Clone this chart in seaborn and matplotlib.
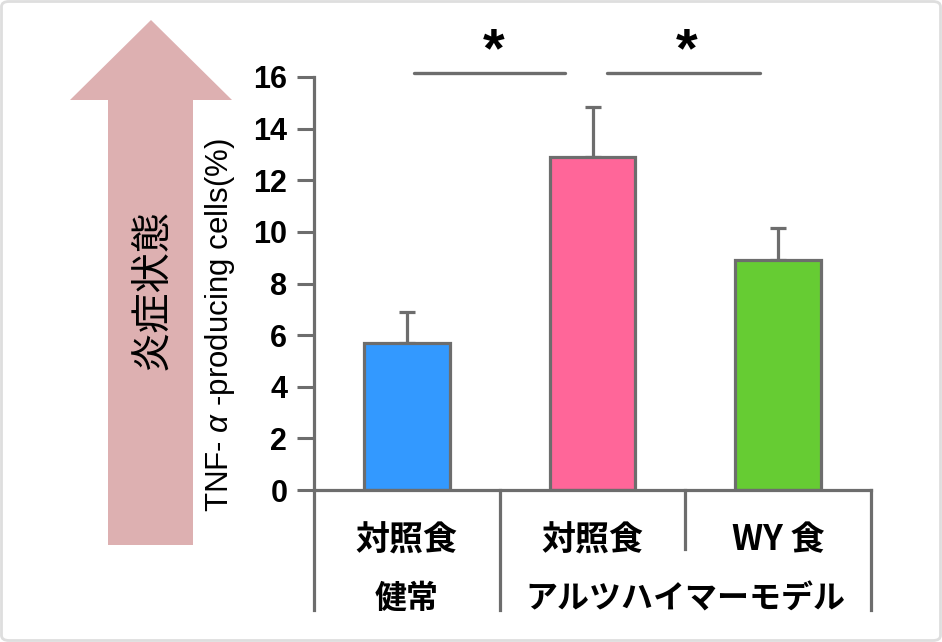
import numpy as np
import pandas as pd
import matplotlib
matplotlib.use("Agg")
import matplotlib.pyplot as plt
import seaborn as sns
from matplotlib.patches import Polygon, FancyBboxPatch

# ---- data ----
conditions = ["健常・対照食", "AD・対照食", "AD・WY食"]
bar_labels = ["対照食", "対照食", "WY 食"]
means = [5.7, 12.9, 8.9]
errors = [1.2, 1.95, 1.25]
group_labels = ["健常", "アルツハイマーモデル"]
group_centers = [0, 1.5]
colors = ["#3399FF", "#FF6699", "#66CC33"]
y_ticks = [0, 2, 4, 6, 8, 10, 12, 14, 16]
sig_pairs = [(0.04, 0.85), (1.08, 1.90)]
sig_star_x = [0.465, 1.505]

sns.set_style("white")
plt.rcParams["font.family"] = ["Liberation Sans", "Noto Sans CJK JP"]
plt.rcParams["mathtext.fontset"] = "custom"
plt.rcParams["mathtext.it"] = "Liberation Sans:italic"
plt.rcParams["mathtext.rm"] = "Liberation Sans"
plt.rcParams["text.color"] = "black"
plt.rcParams["axes.labelcolor"] = "black"
plt.rcParams["xtick.labelcolor"] = "black"
plt.rcParams["ytick.labelcolor"] = "black"

GRAY = "#6d6d6d"
W, H = 942, 642
fig = plt.figure(figsize=(W / 100, H / 100), dpi=100)
ax = fig.add_axes([314 / W, 1 - 490 / H, (871 - 314) / W, (490 - 77) / H])

df = pd.DataFrame({"cond": conditions, "value": means})
sns.barplot(data=df, x="cond", y="value", hue="cond", order=conditions,
            palette=colors, saturation=1, width=0.463, edgecolor=GRAY, linewidth=2.3,
            errorbar=None, legend=False, ax=ax, zorder=2)
ax.errorbar(np.arange(len(means)), means, yerr=[np.zeros(len(errors)), errors],
            fmt="none", ecolor=GRAY, elinewidth=2.3, capsize=6, capthick=2.3, zorder=1)

ax.set_xlim(-0.5, 2.5)
ax.set_ylim(0, 16)
ax.set_yticks(y_ticks)
ax.set_yticklabels([str(t) for t in y_ticks], fontsize=22, fontweight="bold")
ax.tick_params(axis="y", length=12.2, width=2.2, color=GRAY, pad=7, left=True)
ax.tick_params(axis="x", length=0, pad=36)
ax.set_xticks(range(len(bar_labels)))
ax.set_xticklabels(bar_labels, fontsize=24.5, fontweight="bold", family=["Noto Sans CJK JP"])
for lbl in ax.get_xticklabels():
    lbl.set_va("center")
ax.set_xlabel("")
ax.set_ylabel("TNF- $\\mathit{\\alpha}$ -producing cells(%)", fontsize=22.5, va="center")
ax.yaxis.set_label_coords(-0.169, 0.40)

for s in ["top", "right"]:
    ax.spines[s].set_visible(False)
for s in ["left", "bottom"]:
    ax.spines[s].set_color(GRAY)
    ax.spines[s].set_linewidth(2.3)

tr = ax.get_xaxis_transform()
for xv, yb in [(-0.5, -0.29), (0.5, -0.29), (1.5, -0.143), (2.5, -0.29)]:
    ax.plot([xv, xv], [0, yb], transform=tr, color=GRAY, lw=2.3, clip_on=False,
            solid_capstyle="projecting")

for name, xc in zip(group_labels, group_centers):
    ax.text(xc, -0.264, name, transform=tr, ha="center", va="center",
            fontsize=23, fontweight="bold", family=["Noto Sans CJK JP"])

for (x0, x1), xs in zip(sig_pairs, sig_star_x):
    ax.plot([x0, x1], [16.16, 16.16], color=GRAY, lw=2.4, clip_on=False)
    ax.text(xs, 16.95, "*", ha="center", va="center", fontsize=40, fontweight="bold")

# arrow
pts = [(108, 545), (108, 100), (70, 100), (151, 20), (232, 100), (193, 100), (193, 545)]
arrow = Polygon([(x / W, 1 - y / H) for x, y in pts], closed=True,
                transform=fig.transFigure, facecolor="#DDB0B1", edgecolor="none")
fig.patches.append(arrow)
fig.text(152 / W, 1 - 289 / H, "炎症状態", rotation=90, ha="center", va="center",
         fontsize=29, family=["Noto Sans CJK JP"])

border = FancyBboxPatch((1.5 / W, 1.5 / H), (W - 3) / W, (H - 3) / H,
                        boxstyle="round,pad=0,rounding_size=0.008",
                        transform=fig.transFigure, facecolor="none",
                        edgecolor="#dedede", linewidth=2)
fig.patches.append(border)

fig.savefig("out.png", dpi=100)
